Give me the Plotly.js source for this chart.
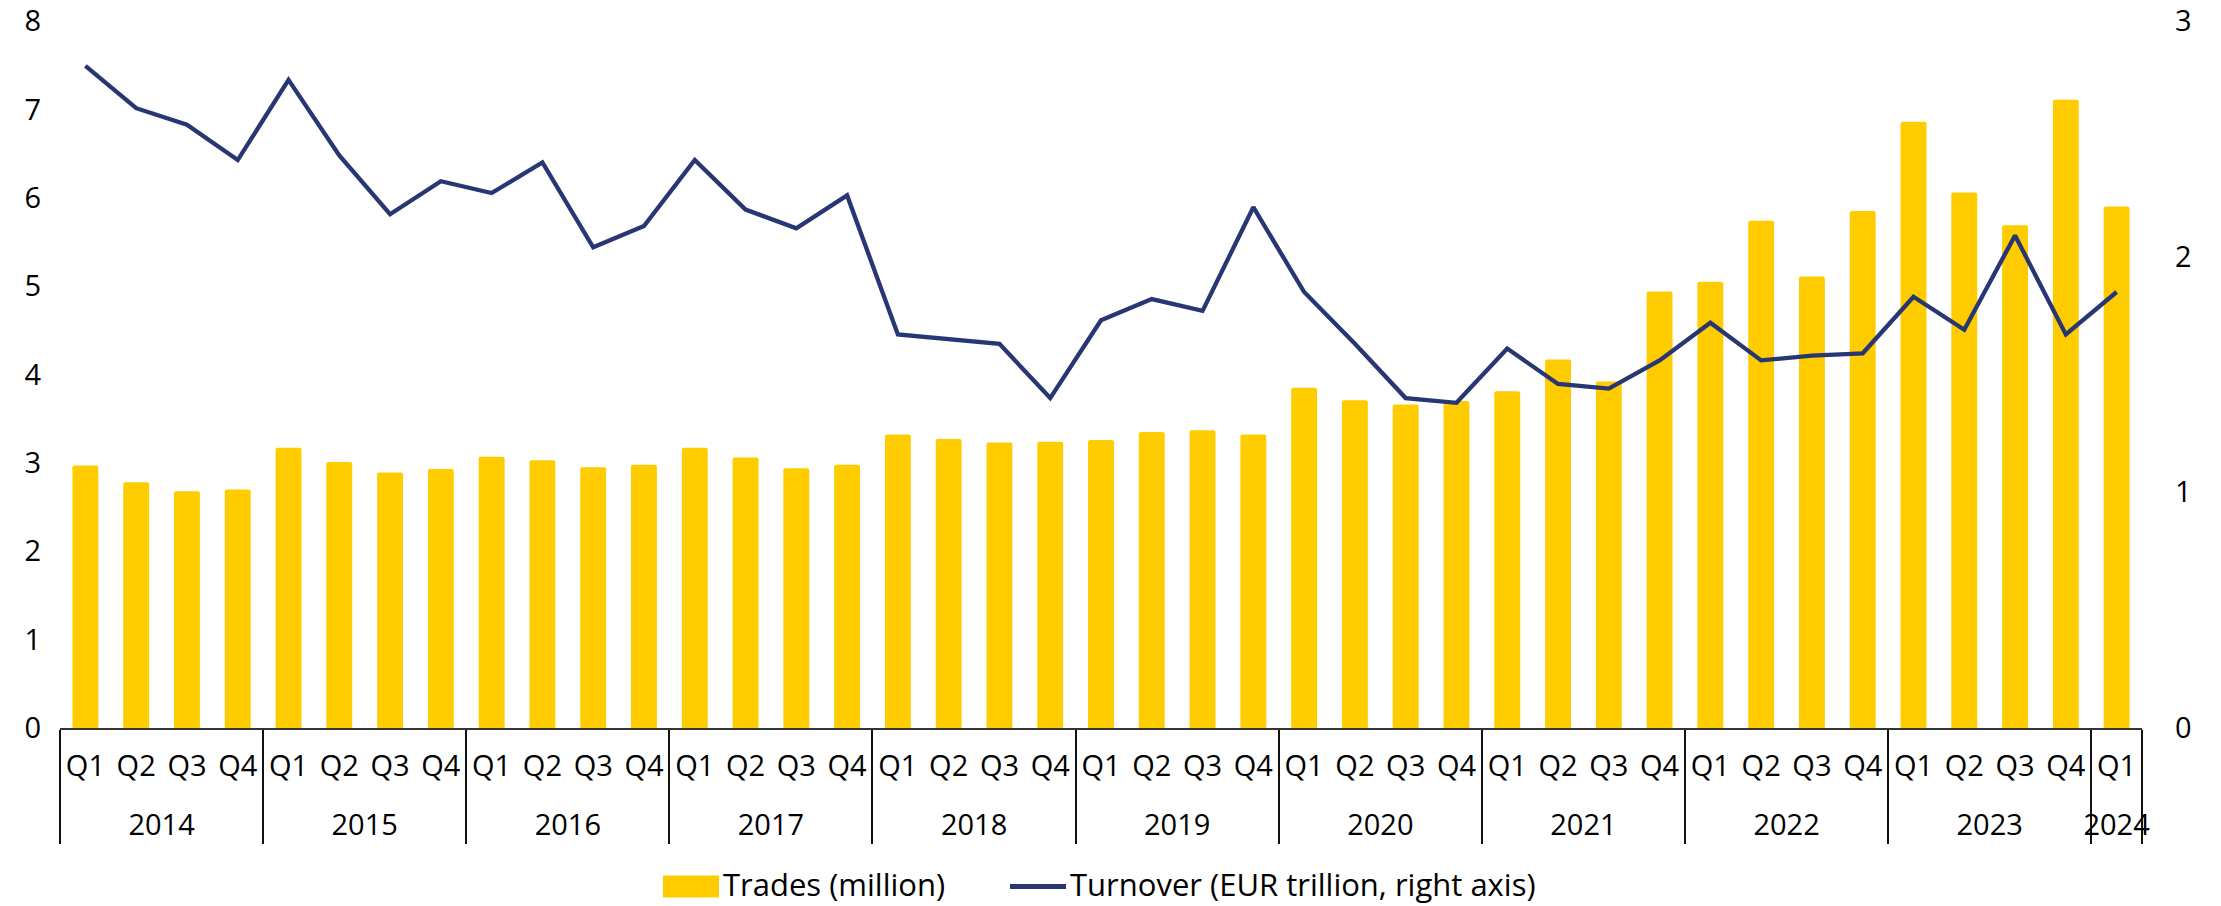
<!DOCTYPE html>
<html>
<head>
<meta charset="utf-8">
<script src="https://cdn.plot.ly/plotly-3.0.1.min.js"></script>
<style>
html,body{margin:0;padding:0;background:#fff;}
#chart{width:2221px;height:906px;}
</style>
</head>
<body>
<div id="chart"></div>
<script>
const years = ["2014","2015","2016","2017","2018","2019","2020","2021","2022","2023","2024"];
const quarters = ["Q1","Q2","Q3","Q4"];
const trades = [
  2.97, 2.78, 2.68, 2.70,
  3.17, 3.01, 2.89, 2.93,
  3.07, 3.03, 2.95, 2.98,
  3.17, 3.06, 2.94, 2.98,
  3.32, 3.27, 3.23, 3.24,
  3.26, 3.35, 3.37, 3.32,
  3.85, 3.71, 3.66, 3.70,
  3.81, 4.17, 3.92, 4.94,
  5.05, 5.74, 5.11, 5.85,
  6.86, 6.06, 5.69, 7.11,
  5.90
];
const turnover = [
  2.81, 2.63, 2.56, 2.41,
  2.75, 2.43, 2.18, 2.32,
  2.27, 2.40, 2.04, 2.13,
  2.41, 2.20, 2.12, 2.26,
  1.67, 1.65, 1.63, 1.40,
  1.73, 1.82, 1.77, 2.21,
  1.85, 1.63, 1.40, 1.38,
  1.61, 1.46, 1.44, 1.56,
  1.72, 1.56, 1.58, 1.59,
  1.83, 1.69, 2.09, 1.67,
  1.85
];
const seriesNames = ["Trades (million)", "Turnover (EUR trillion, right axis)"];

// spacer spans enlarge the quarter label box so the year row sits lower (as in the original)
const pad = '<span style="font-size:50px">\u00a0</span>';
const xYear = [], xQ = [];
for (let i = 0; i < trades.length; i++) {
  xYear.push(years[Math.floor(i / 4)]);
  xQ.push(pad + quarters[i % 4] + pad);
}

const W = 2221, H = 906;
const M = {l: 60, r: 79, t: 21, b: 177.5};
const plotW = W - M.l - M.r, plotH = H - M.t - M.b;
// pixel -> paper helpers (for the legend key only)
const px = v => (v - M.l) / plotW;
const py = v => (H - M.b - v) / plotH;

const fam = "'Open Sans', 'Noto Sans', sans-serif";
const tickFont = {family: fam, size: 29, color: "#000"};
const legendFont = {family: fam, size: 31, color: "#000"};
const yellow = "#FFCC00";
const navy = "#283673";

const data = [
  {
    type: "bar",
    name: seriesNames[0],
    x: [xYear, xQ],
    y: trades,
    marker: {color: yellow, cornerradius: 2},
    yaxis: "y",
    showlegend: false
  },
  {
    type: "scatter",
    mode: "lines",
    name: seriesNames[1],
    x: [xYear, xQ],
    y: turnover,
    line: {color: navy, width: 4.3},
    yaxis: "y2",
    showlegend: false
  }
];

const layout = {
  width: W,
  height: H,
  paper_bgcolor: "#fff",
  plot_bgcolor: "#fff",
  font: tickFont,
  margin: {l: M.l, r: M.r, t: M.t, b: M.b, pad: 0},
  bargap: 0.49,
  showlegend: false,
  xaxis: {
    type: "multicategory",
    showline: true,
    linecolor: "#333",
    linewidth: 2,
    ticks: "",
    tickangle: 0,
    ticklabelstandoff: 11,
    showgrid: false,
    zeroline: false,
    showdividers: true,
    dividercolor: "#111",
    dividerwidth: 2,
    tickfont: tickFont,
    automargin: false
  },
  yaxis: {
    range: [0, 8],
    dtick: 1,
    showgrid: false,
    zeroline: false,
    showline: false,
    ticks: "",
    ticklabelstandoff: 18,
    tickfont: tickFont,
    automargin: false
  },
  yaxis2: {
    range: [0, 3],
    dtick: 1,
    overlaying: "y",
    side: "right",
    showgrid: false,
    zeroline: false,
    showline: false,
    ticks: "",
    ticklabelstandoff: 32,
    tickfont: tickFont,
    automargin: false
  },
  shapes: [
    {type: "rect", xref: "paper", yref: "paper",
     x0: px(663), x1: px(719), y0: py(898), y1: py(876),
     fillcolor: yellow, line: {width: 0}},
    {type: "line", xref: "paper", yref: "paper",
     x0: px(1010), x1: px(1066), y0: py(887), y1: py(887),
     line: {color: navy, width: 5}}
  ],
  annotations: [
    {xref: "paper", yref: "paper", x: px(721), y: py(885),
     xanchor: "left", yanchor: "middle", showarrow: false,
     text: seriesNames[0], font: legendFont},
    {xref: "paper", yref: "paper", x: px(1068), y: py(885),
     xanchor: "left", yanchor: "middle", showarrow: false,
     text: seriesNames[1], font: legendFont}
  ]
};

Plotly.newPlot("chart", data, layout, {displayModeBar: false, staticPlot: true});
</script>
</body>
</html>
